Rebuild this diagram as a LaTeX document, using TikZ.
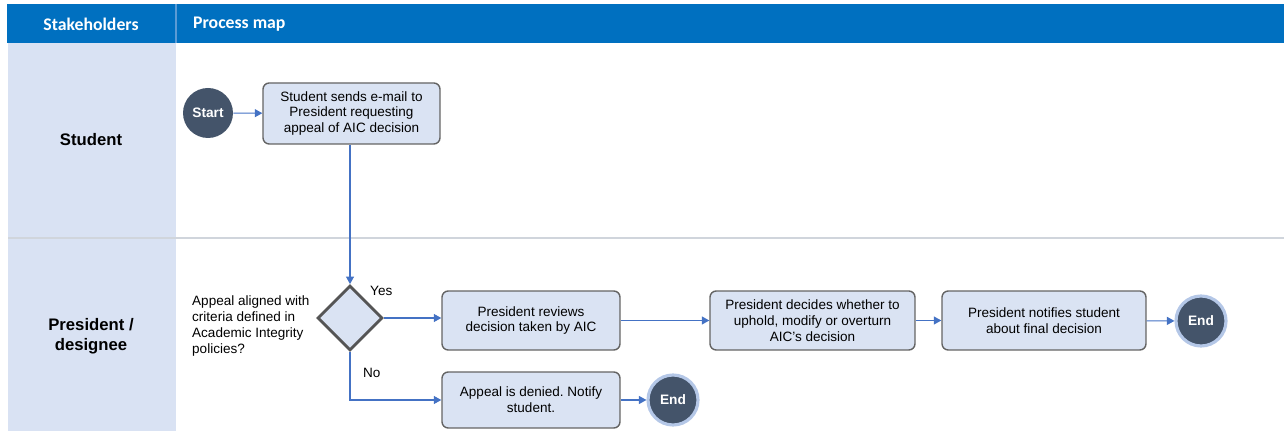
\documentclass[tikz,border=0pt]{standalone}
\usepackage{fontspec}
\setmainfont{Liberation Sans}
\newfontfamily\headfont{Carlito}
\usetikzlibrary{arrows.meta,shapes.geometric}
\definecolor{MapHead}{HTML}{0070C0}
\definecolor{MapHeadRule}{HTML}{5B9BD5}
\definecolor{MapLane}{HTML}{D9E2F3}
\definecolor{MapRule}{HTML}{D0D5DC}
\definecolor{MapBox}{HTML}{DAE3F3}
\definecolor{MapEdge}{HTML}{646464}
\definecolor{MapFlow}{HTML}{4472C4}
\definecolor{MapNavy}{HTML}{44546A}
\definecolor{MapRing}{HTML}{B4C7E7}
\tikzset{
  every node/.style={font=\fontsize{7.7}{9.1}\selectfont, text=black},
  headtext/.style={font=\headfont\fontsize{10.1}{12}\selectfont\bfseries, text=white},
  lanetext/.style={font=\fontsize{9.5}{11.5}\selectfont\bfseries, align=center},
  stepbox/.style={draw=MapEdge, line width=0.8pt, fill=MapBox, rounded corners=3.5pt,
    align=center, inner sep=1pt},
  decision/.style={diamond, draw=MapEdge!85!black, line width=1.6pt, fill=MapBox,
    minimum width=1.3cm, minimum height=1.3cm, inner sep=0pt},
  terminal/.style={circle, fill=MapNavy, minimum size=1cm, inner sep=0pt,
    font=\fontsize{7.8}{9}\selectfont\bfseries, text=white},
  endring/.style={terminal, draw=MapRing, line width=1.8pt},
  flow/.style={-{Triangle[length=1.5mm,width=1.6mm]}, draw=MapFlow, line width=0.6pt},
}
\frenchspacing
\begin{document}
\begin{tikzpicture}[x=0.02cm,y=-0.02cm]
  \useasboundingbox (0,0) rectangle (1284,431);
  % lanes and header
  \fill[MapLane] (8,43) rectangle (176,431);
  \fill[MapHead] (7,4) rectangle (1284,43);
  \draw[MapHeadRule, line width=0.6pt] (176,4) -- (176,43);
  \draw[MapRule, line width=0.6pt] (8,238) -- (1284,238);
  \node[headtext] (hstake) at (91,24) {Stakeholders};
  \node[headtext, anchor=west] (hmap) at (187,24) {Process map};
  \node[lanetext] (lstudent) at (91,140) {Student};
  \node[lanetext] (lpres) at (91,336) {President /\\designee};
  % student lane
  \node[terminal] (start) at (208,113) {Start};
  \node[stepbox, minimum width=3.54cm, minimum height=1.22cm] (email) at (351.5,113.5)
    {Student sends e-mail to\\President requesting\\appeal of AIC decision};
  % president lane
  \node[decision] (check) at (350,318) {};
  \node[anchor=west, align=left] (question) at (186,326)
    {Appeal aligned with\\criteria defined in\\Academic Integrity\\policies?};
  \node[stepbox, minimum width=3.56cm, minimum height=1.18cm] (review) at (531,320.5)
    {President reviews\\decision taken by AIC};
  \node[stepbox, minimum width=4.1cm, minimum height=1.18cm] (decide) at (812.5,320.5)
    {President decides whether to\\uphold, modify or overturn\\AIC's decision};
  \node[stepbox, minimum width=4.08cm, minimum height=1.18cm] (notify) at (1044,320.5)
    {President notifies student\\about final decision};
  \node[endring] (endA) at (1201,321) {End};
  \node[stepbox, minimum width=3.56cm, minimum height=1.12cm] (denied) at (531,400)
    {Appeal is denied. Notify\\student.};
  \node[endring] (endB) at (673,400) {End};
  \node[anchor=west] (yes) at (364,291) {Yes};
  \node[anchor=west] (no) at (357,373) {No};
  % connectors
  \draw[flow] (start) -- (email);
  \draw[flow] (email.south -| check.north) -- (check.north);
  \draw[flow] (check.east) -- (check.east -| review.west);
  \draw[flow] (review) -- (decide);
  \draw[flow] (decide) -- (notify);
  \draw[flow] (notify) -- (endA);
  \draw[flow] (check.south) |- (denied.west);
  \draw[flow] (denied) -- (endB);
\end{tikzpicture}
\end{document}
